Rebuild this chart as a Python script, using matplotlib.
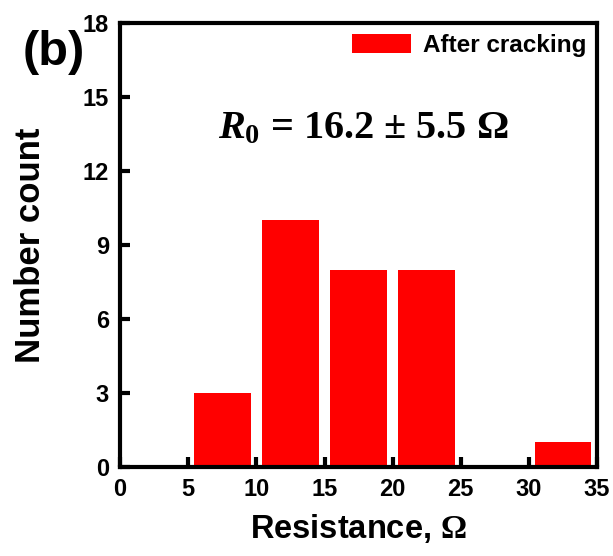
import matplotlib.pyplot as plt

# histogram of resistance after cracking
bin_left = [5, 10, 15, 20, 30]
counts = [3, 10, 8, 8, 1]
bin_width = 5
x_ticks = [0, 5, 10, 15, 20, 25, 30, 35]
y_ticks = [0, 3, 6, 9, 12, 15, 18]

plt.rcParams['font.family'] = ['Liberation Sans', 'DejaVu Sans']
plt.rcParams['font.weight'] = 'bold'
plt.rcParams['mathtext.fontset'] = 'custom'
plt.rcParams['mathtext.it'] = 'Liberation Serif:italic:bold'
plt.rcParams['mathtext.rm'] = 'Liberation Serif:bold'
plt.rcParams['mathtext.sf'] = 'Liberation Serif'

fig = plt.figure(figsize=(6.13, 5.56), dpi=100)
ax = fig.add_axes([0.196, 0.160, 0.778, 0.799])

centers = [b + bin_width / 2 for b in bin_left]
ax.bar(centers, counts, width=bin_width * 0.83, color='#ff0000',
       label='After cracking')

ax.set_xlim(0, 35)
ax.set_ylim(0, 18)
ax.set_xticks(x_ticks)
ax.set_yticks(y_ticks)
ax.tick_params(direction='in', length=7, width=3, labelsize=17, pad=8)
for s in ax.spines.values():
    s.set_linewidth(3)

ax.set_xlabel(r'Resistance, $\mathsf{\Omega}$', fontsize=23.5,
              fontweight='bold', labelpad=8)
ax.set_ylabel('Number count', fontsize=25, fontweight='bold', labelpad=26)

ax.text(0.51, 0.762, r'$\mathit{R}_\mathrm{0}$ = 16.2 ± 5.5 Ω',
        transform=ax.transAxes, ha='center', va='center', fontsize=29,
        fontweight='bold', family='Liberation Serif')

fig.text(0.087, 0.905, '(b)', fontsize=35, fontweight='bold', ha='center',
         va='center')

ax.legend(loc='upper right', frameon=False, fontsize=17.5, handlelength=2.4,
          handleheight=0.8, handletextpad=0.5, borderaxespad=0.05)

fig.savefig('out.png', dpi=100)
